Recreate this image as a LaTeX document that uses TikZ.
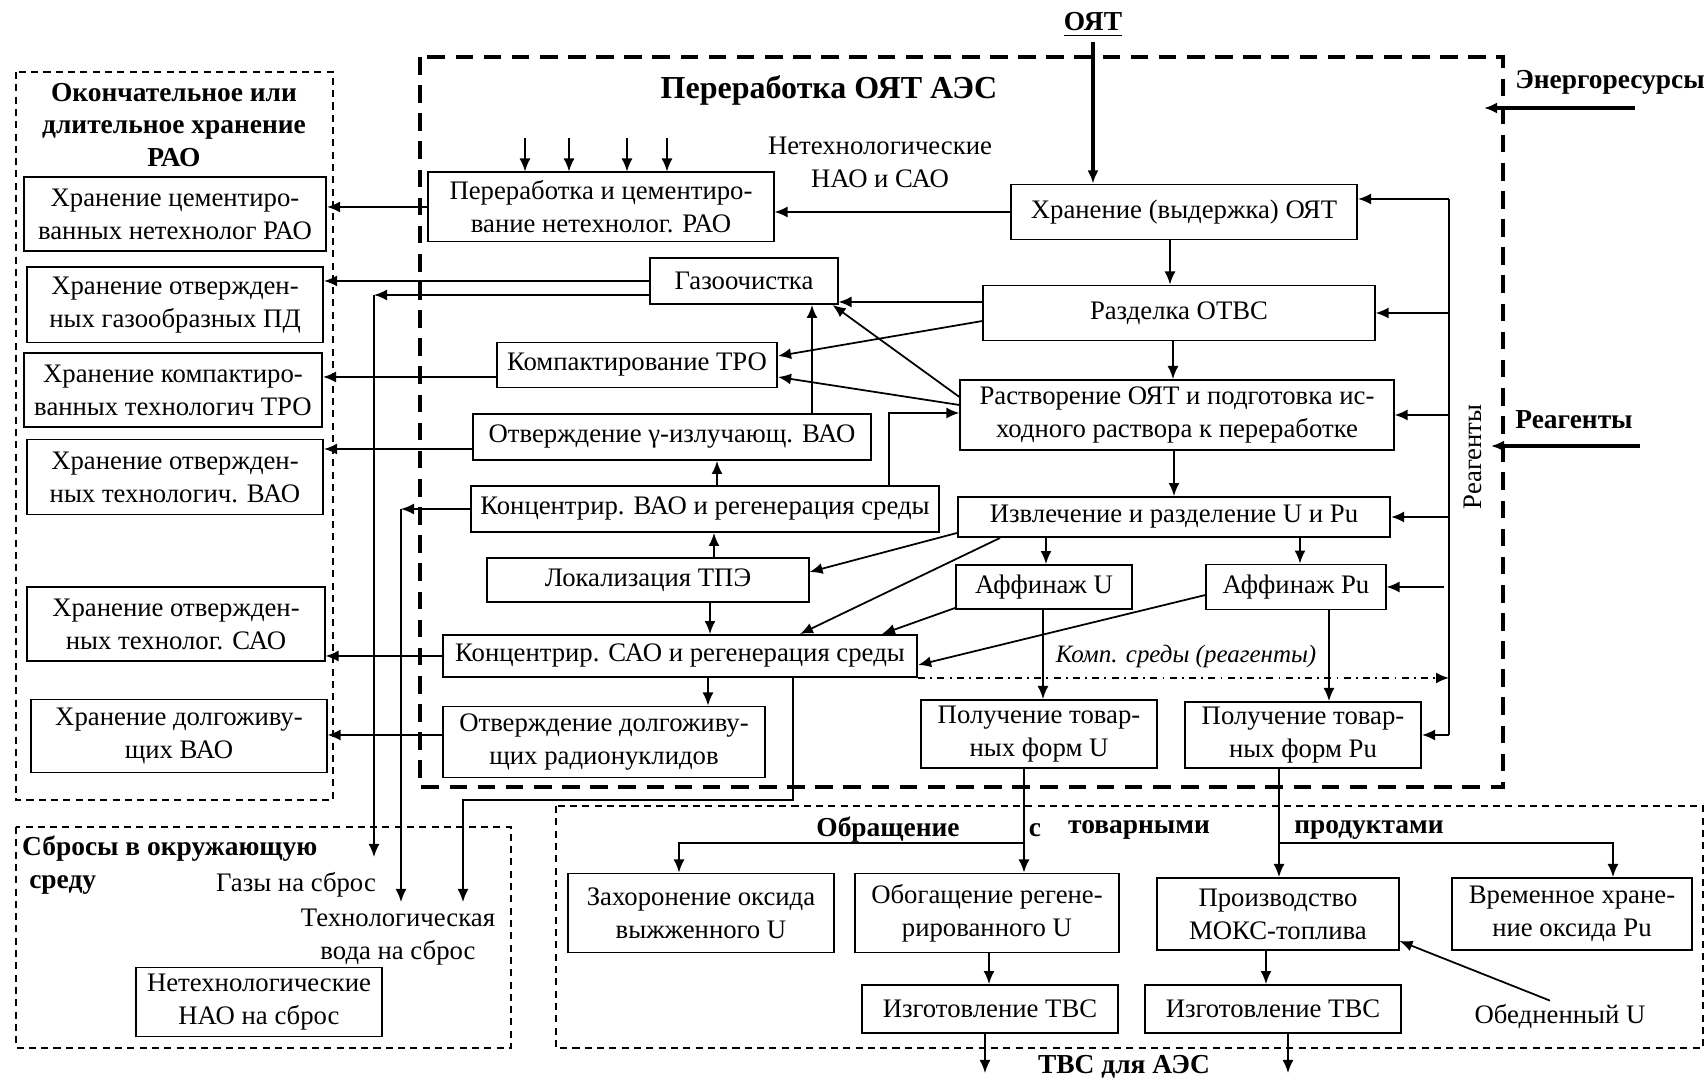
\documentclass[tikz,border=0pt]{standalone}
\usepackage{fontspec}
\setmainfont{Liberation Serif}
\usetikzlibrary{arrows.meta}

\begin{document}
\begin{tikzpicture}[x=0.01cm,y=-0.01cm,
  font=\fontsize{7.6}{9.4}\selectfont,
  blk/.style={draw,line width=0.55pt,align=center,inner sep=1pt},
  arr/.style={-{Latex[length=1.3mm,width=1.1mm]},line width=0.5pt},
  ttl/.style={font=\fontsize{7.8}{9.2}\selectfont\bfseries,align=center,inner sep=1pt},
  lbl/.style={align=center,inner sep=1pt},
  frame/.style={line width=0.5pt,dash pattern=on 2pt off 1.5pt}]
\useasboundingbox (0,0) rectangle (1708,1080);

% containers
\draw[frame] (16,72) rectangle (333,800);
\draw[line width=1pt,dash pattern=on 5pt off 3pt] (420,57) rectangle (1503,787);
\draw[frame] (16,827) rectangle (511,1048);
\draw[frame] (556,806) rectangle (1703,1048);

% storage of RAO (left)
\node[ttl] (tstor) at (174,125) {Окончательное или\\длительное хранение\\РАО};
\node[blk,minimum width=3.02cm,minimum height=0.74cm] (hr1) at (175,214) {Хранение цементиро-\\ванных нетехнолог РАО};
\node[blk,minimum width=2.96cm,minimum height=0.75cm] (hr2) at (175,305) {Хранение отвержден-\\ных газообразных ПД};
\node[blk,minimum width=2.98cm,minimum height=0.74cm] (hr3) at (173,390) {Хранение компактиро-\\ванных технологич ТРО};
\node[blk,minimum width=2.96cm,minimum height=0.75cm] (hr4) at (175,477) {Хранение отвержден-\\ных технологич. ВАО};
\node[blk,minimum width=2.97cm,minimum height=0.74cm] (hr5) at (176,624) {Хранение отвержден-\\ных технолог. САО};
\node[blk,minimum width=2.95cm,minimum height=0.73cm] (hr6) at (179,736) {Хранение долгоживу-\\щих ВАО};

% reprocessing, waste side
\node[ttl,font=\fontsize{9.1}{11}\selectfont\bfseries] (tmain) at (829,90) {Переработка ОЯТ АЭС};
\node[lbl] (neth) at (880,162) {Нетехнологические\\НАО и САО};
\node[blk,minimum width=3.45cm,minimum height=0.69cm] (cem) at (601,207) {Переработка и цементиро-\\вание нетехнолог. РАО};
\node[blk,minimum width=1.87cm,minimum height=0.46cm] (gaz) at (744,281) {Газоочистка};
\node[blk,minimum width=2.80cm,minimum height=0.45cm] (kmp) at (637,365) {Компактирование ТРО};
\node[blk,minimum width=3.97cm,minimum height=0.46cm] (otvg) at (672,437) {Отверждение γ-излучающ. ВАО};
\node[blk,minimum width=4.68cm,minimum height=0.46cm] (kvao) at (705,509) {Концентрир. ВАО и регенерация среды};
\node[blk,minimum width=3.21cm,minimum height=0.44cm] (lok) at (648,580) {Локализация ТПЭ};
\node[blk,minimum width=4.74cm,minimum height=0.42cm] (ksao) at (680,656) {Концентрир. САО и регенерация среды};
\node[blk,minimum width=3.22cm,minimum height=0.71cm] (otvd) at (604,742) {Отверждение долгоживу-\\щих радионуклидов};

% reprocessing, main line
\node[ttl] (oyat) at (1093,25) {\underline{ОЯТ}};
\node[blk,minimum width=3.46cm,minimum height=0.55cm] (hrn) at (1184,212) {Хранение (выдержка) ОЯТ};
\node[blk,minimum width=3.91cm,minimum height=0.55cm] (razd) at (1179,313) {Разделка ОТВС};
\node[blk,minimum width=4.33cm,minimum height=0.70cm] (rast) at (1177,415) {Растворение ОЯТ и подготовка ис-\\ходного раствора к переработке};
\node[blk,minimum width=4.32cm,minimum height=0.40cm] (izv) at (1174,517) {Извлечение и разделение U и Pu};
\node[blk,minimum width=1.76cm,minimum height=0.44cm] (affu) at (1044,587) {Аффинаж U};
\node[blk,minimum width=1.79cm,minimum height=0.45cm] (affp) at (1296,587) {Аффинаж Pu};
\node[blk,minimum width=2.36cm,minimum height=0.68cm] (polu) at (1039,734) {Получение товар-\\ных форм U};
\node[blk,minimum width=2.36cm,minimum height=0.66cm] (polp) at (1303,735) {Получение товар-\\ных форм Pu};
\node[lbl,font=\fontsize{7.1}{9}\selectfont\itshape] (komp) at (1186,657) {Комп. среды (реагенты)};
\node[lbl,rotate=90] (reagv) at (1473,457) {Реагенты};
\node[ttl] (energ) at (1610,82) {Энергоресурсы};
\node[ttl] (reag) at (1574,420) {Реагенты};

% commercial products
\node[ttl] (t1) at (888,830) {Обращение};
\node[ttl] (t2) at (1035,830) {с};
\node[ttl] (t3) at (1139,830) {товарными};
\node[ttl] (t4) at (1369,830) {продуктами};
\node[blk,minimum width=2.65cm,minimum height=0.79cm] (zah) at (701,913) {Захоронение оксида\\выжженного U};
\node[blk,minimum width=2.63cm,minimum height=0.79cm] (obog) at (987,913) {Обогащение регене-\\рированного U};
\node[blk,minimum width=2.56cm,minimum height=0.48cm] (tvs1) at (990,1009) {Изготовление ТВС};
\node[blk,minimum width=2.41cm,minimum height=0.72cm] (prz) at (1278,914) {Производство\\МОКС-топлива};
\node[blk,minimum width=2.39cm,minimum height=0.72cm] (vrem) at (1572,914) {Временное хране-\\ние оксида Pu};
\node[blk,minimum width=2.56cm,minimum height=0.48cm] (tvs2) at (1273,1009) {Изготовление ТВС};
\node[lbl] (obed) at (1560,1017) {Обедненный U};
\node[ttl] (tvsaes) at (1124,1067) {ТВС для АЭС};

% releases
\node[ttl,align=left,anchor=north west] (tenv) at (18,832) {Сбросы в окружающую\\\hspace{2pt}среду};
\node[lbl] (gases) at (296,885) {Газы на сброс};
\node[lbl] (water) at (398,937) {Технологическая\\вода на сброс};
\node[blk,minimum width=2.46cm,minimum height=0.69cm] (nao) at (259,1002) {Нетехнологические\\НАО на сброс};

% inputs
\draw[arr,line width=1pt] (oyat.south) -- (oyat.south |- hrn.north);
\coordinate (e1) at (1635,108);
\coordinate (e2) at (1484,108);
\draw[arr,line width=1pt] (e1) -- (e2);
\coordinate (r1) at (1640,446);
\coordinate (r2) at (1491,446);
\draw[arr,line width=1pt] (r1) -- (r2);
\foreach \x in {525,569,627,667}
  \draw[arr] (\x,138) -- (cem.north -| \x,0);

% reagents line
\coordinate (rtop) at (1449,199);
\coordinate (rbot) at (1449,735);
\draw[line width=0.5pt] (rtop) -- (rbot);
\draw[arr] (rtop) -- (rtop -| hrn.east);
\draw[arr] (razd.east -| rtop) -- (razd.east);
\draw[arr] (rast.east -| rtop) -- (rast.east);
\draw[arr] (izv.east -| rtop) -- (izv.east);
\draw[arr] ([xshift=0.57cm]affp.east) -- (affp.east);
\draw[arr] (rbot) -- (rbot -| polp.east);
\draw[arr,dash pattern=on 2pt off 1.5pt on 0.5pt off 1.5pt] (ksao.south east) -- (ksao.south east -| rtop);

% main line
\draw[arr] (hrn.south -| 1170,0) -- (razd.north -| 1170,0);
\draw[arr] (razd.south -| 1173,0) -- (rast.north -| 1173,0);
\draw[arr] (rast.south -| 1174,0) -- (izv.north -| 1174,0);
\draw[arr] (izv.south -| 1046,0) -- (affu.north -| 1046,0);
\draw[arr] (izv.south -| 1300,0) -- (affp.north -| 1300,0);
\draw[arr] (affu.south -| 1043,0) -- (polu.north -| 1043,0);
\draw[arr] (affp.south -| 1329,0) -- (polp.north -| 1329,0);
\draw[arr] (hrn.west) -- (hrn.west -| cem.east);

% waste streams
\draw[arr] ([yshift=0.11cm]razd.west) -- ([yshift=0.11cm]razd.west -| gaz.east);
\draw[arr] ([yshift=-0.08cm]razd.west) -- ([yshift=0.09cm]kmp.east);
\draw[arr] ([yshift=0.18cm]rast.west) -- ([xshift=-0.06cm]gaz.south east);
\draw[arr] ([yshift=0.10cm]rast.west) -- ([yshift=-0.12cm]kmp.east);
\draw[arr] (kvao.north -| 889,0) |- ([yshift=0.02cm]rast.west);
\draw[arr] (otvg.north -| 812,0) -- (gaz.south -| 812,0);
\draw[arr] (kvao.north -| 717,0) -- (otvg.south -| 717,0);
\draw[arr] (lok.north -| 714,0) -- (kvao.south -| 714,0);
\draw[arr] (lok.south -| 710,0) -- (ksao.north -| 710,0);
\draw[arr] (ksao.south -| 708,0) -- (otvd.north -| 708,0);
\draw[arr] ([yshift=-0.16cm]izv.west) -- ([yshift=0.08cm]lok.east);
\draw[arr] (izv.south -| 1000,0) -- (ksao.north -| 800,0);
\draw[arr] ([yshift=-0.21cm]affu.west) -- (ksao.north -| 882,0);
\draw[arr] ([yshift=-0.08cm]affp.west) -- ([yshift=-0.09cm]ksao.east);

% to storage
\draw[arr] (cem.west) -- (cem.west -| hr1.east);
\draw[arr] (gaz.west) -- (gaz.west -| hr2.east);
\draw[arr] ([yshift=-0.12cm]kmp.west) -- ([yshift=-0.12cm]kmp.west -| hr3.east);
\draw[arr] ([yshift=-0.12cm]otvg.west) -- ([yshift=-0.12cm]otvg.west -| hr4.east);
\draw[arr] (ksao.west) -- (ksao.west -| hr5.east);
\draw[arr] ([yshift=0.07cm]otvd.west) -- ([yshift=0.07cm]otvd.west -| hr6.east);

% to the environment
\coordinate (gc) at (374,295);
\coordinate (wc) at (401,509);
\draw[arr] (gc -| gaz.west) -- (gc);
\draw[arr] (gc) -- (374,857);
\draw[arr] (wc -| kvao.west) -- (wc);
\draw[arr] (wc) -- (401,902);
\draw[arr] (ksao.south -| 793,0) |- (463,800) -- (463,902);

% commercial products
\coordinate (bu) at (1024,843);
\coordinate (bp) at (1279,843);
\draw[arr] (polu.south -| bu) -- (obog.north -| bu);
\draw[arr] (bu) -| (zah.north -| 679,0);
\draw[arr] (polp.south -| bp) -- (prz.north -| bp);
\draw[arr] (bp) -| (vrem.north -| 1613,0);
\draw[arr] (obog.south -| 989,0) -- (tvs1.north -| 989,0);
\draw[arr] (prz.south -| 1266,0) -- (tvs2.north -| 1266,0);
\draw[arr] (tvs1.south -| 985,0) -- (985,1073);
\draw[arr] (tvs2.south -| 1288,0) -- (1288,1073);
\draw[arr] ([xshift=-0.1cm]obed.north) -- ([yshift=0.1cm]prz.south east);
\end{tikzpicture}
\end{document}
